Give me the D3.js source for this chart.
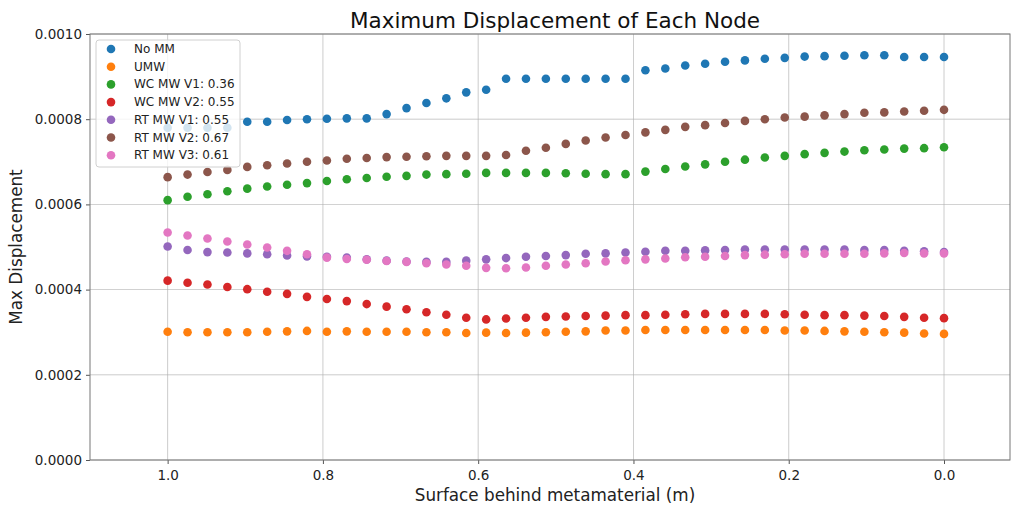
<!DOCTYPE html>
<html>
<head>
<meta charset="utf-8">
<script src="https://cdn.jsdelivr.net/npm/d3@7"></script>
<style>
  body { margin: 0; background: #fff; }
  svg { font-family: "DejaVu Sans", sans-serif; }
</style>
</head>
<body>
<svg id="chart" width="1011" height="507"></svg>
<script>
// node positions: 40 nodes from 1.0 m down to 0.0 m
const positions = d3.range(40).map(i => 1 - i / 39);

const seriesNames = ["No MM", "UMW", "WC MW V1: 0.36", "WC MW V2: 0.55",
  "RT MW V1: 0.55", "RT MW V2: 0.67", "RT MW V3: 0.61"];
const colors = ["#1f77b4", "#ff7f0e", "#2ca02c", "#d62728", "#9467bd", "#8c564b", "#e377c2"];

const noMM = [0.000780, 0.000780, 0.000780, 0.000780, 0.000794, 0.000794, 0.000798, 0.000800, 0.000801, 0.000802,
  0.000802, 0.000812, 0.000826, 0.000838, 0.000849, 0.000863, 0.000869, 0.000895, 0.000895, 0.000895,
  0.000895, 0.000895, 0.000895, 0.000895, 0.000915, 0.000919, 0.000926, 0.000930, 0.000935, 0.000938,
  0.000942, 0.000944, 0.000947, 0.000948, 0.000949, 0.000950, 0.000950, 0.000946, 0.000946, 0.000946];
const umw = [0.000301, 0.000300, 0.000300, 0.000300, 0.000300, 0.000301, 0.000302, 0.000303, 0.000301, 0.000302,
  0.000301, 0.000301, 0.000301, 0.000300, 0.000300, 0.000298, 0.000299, 0.000298, 0.000299, 0.000300,
  0.000301, 0.000302, 0.000304, 0.000304, 0.000305, 0.000305, 0.000305, 0.000305, 0.000305, 0.000305,
  0.000305, 0.000304, 0.000304, 0.000303, 0.000302, 0.000301, 0.000300, 0.000299, 0.000297, 0.000296];
const wcV1 = [0.000610, 0.000618, 0.000624, 0.000631, 0.000637, 0.000642, 0.000646, 0.000650, 0.000655, 0.000659,
  0.000662, 0.000665, 0.000667, 0.000670, 0.000671, 0.000672, 0.000674, 0.000674, 0.000674, 0.000674,
  0.000673, 0.000672, 0.000671, 0.000671, 0.000677, 0.000683, 0.000689, 0.000694, 0.000700, 0.000705,
  0.000710, 0.000714, 0.000718, 0.000721, 0.000724, 0.000727, 0.000729, 0.000731, 0.000732, 0.000734];
const wcV2 = [0.000421, 0.000416, 0.000412, 0.000406, 0.000401, 0.000395, 0.000390, 0.000383, 0.000378, 0.000373,
  0.000366, 0.000360, 0.000354, 0.000347, 0.000341, 0.000334, 0.000330, 0.000332, 0.000334, 0.000336,
  0.000337, 0.000338, 0.000339, 0.000340, 0.000340, 0.000341, 0.000342, 0.000343, 0.000343, 0.000343,
  0.000343, 0.000342, 0.000341, 0.000340, 0.000340, 0.000339, 0.000338, 0.000336, 0.000334, 0.000333];
const rtV1 = [0.000501, 0.000493, 0.000488, 0.000487, 0.000485, 0.000483, 0.000480, 0.000478, 0.000477, 0.000475,
  0.000471, 0.000468, 0.000466, 0.000465, 0.000465, 0.000468, 0.000471, 0.000474, 0.000477, 0.000479,
  0.000481, 0.000484, 0.000485, 0.000487, 0.000489, 0.000491, 0.000491, 0.000492, 0.000493, 0.000494,
  0.000494, 0.000494, 0.000494, 0.000494, 0.000494, 0.000493, 0.000493, 0.000491, 0.000490, 0.000488];
const rtV2 = [0.000664, 0.000670, 0.000676, 0.000681, 0.000688, 0.000692, 0.000696, 0.000700, 0.000703, 0.000707,
  0.000709, 0.000711, 0.000712, 0.000713, 0.000714, 0.000714, 0.000714, 0.000716, 0.000726, 0.000733,
  0.000742, 0.000750, 0.000757, 0.000763, 0.000769, 0.000775, 0.000782, 0.000786, 0.000791, 0.000796,
  0.000800, 0.000804, 0.000806, 0.000809, 0.000812, 0.000815, 0.000816, 0.000818, 0.000820, 0.000822];
const rtV3 = [0.000534, 0.000527, 0.000520, 0.000513, 0.000506, 0.000499, 0.000491, 0.000483, 0.000475, 0.000472,
  0.000470, 0.000467, 0.000465, 0.000462, 0.000459, 0.000456, 0.000451, 0.000450, 0.000452, 0.000456,
  0.000459, 0.000462, 0.000466, 0.000469, 0.000471, 0.000473, 0.000476, 0.000477, 0.000479, 0.000481,
  0.000482, 0.000483, 0.000484, 0.000484, 0.000484, 0.000484, 0.000485, 0.000486, 0.000485, 0.000485];

const allSeries = [noMM, umw, wcV1, wcV2, rtV1, rtV2, rtV3];

const xTicks = [1.0, 0.8, 0.6, 0.4, 0.2, 0.0];
const yTicks = [0, 0.0002, 0.0004, 0.0006, 0.0008, 0.0010];

const svg = d3.select("#chart");
const margin = {top: 34, right: 1, bottom: 47, left: 90};
const width = 1011 - margin.left - margin.right;
const height = 507 - margin.top - margin.bottom;

const g = svg.append("g")
  .attr("transform", "translate(" + margin.left + "," + margin.top + ")");

const x = d3.scaleLinear().domain([1.1, -0.085]).range([0, width]);
const y = d3.scaleLinear().domain([0, 0.001]).range([height, 0]);

// grid
g.append("g").selectAll("line").data(xTicks).enter().append("line")
  .attr("x1", d => x(d)).attr("x2", d => x(d))
  .attr("y1", 0).attr("y2", height)
  .attr("stroke", "#b0b0b0").attr("stroke-width", 0.8).attr("opacity", 0.8);
g.append("g").selectAll("line").data(yTicks).enter().append("line")
  .attr("x1", 0).attr("x2", width)
  .attr("y1", d => y(d)).attr("y2", d => y(d))
  .attr("stroke", "#b0b0b0").attr("stroke-width", 0.8).attr("opacity", 0.8);

// axes
const xAxis = g.append("g")
  .attr("transform", "translate(0," + height + ")")
  .call(d3.axisBottom(x).tickValues(xTicks).tickFormat(d3.format(".1f")).tickSize(4).tickPadding(6));
const yAxis = g.append("g")
  .call(d3.axisLeft(y).tickValues(yTicks).tickFormat(d3.format(".4f")).tickSize(4).tickPadding(4));
[xAxis, yAxis].forEach(a => {
  a.select(".domain").remove();
  a.selectAll("line").attr("stroke", "#555");
  a.selectAll("text").attr("font-size", 13.5).attr("fill", "#222")
    .attr("font-family", "DejaVu Sans, sans-serif");
});

// frame
g.append("rect")
  .attr("x", 0).attr("y", 0).attr("width", width).attr("height", height)
  .attr("fill", "none").attr("stroke", "#777").attr("stroke-width", 1);

// points
allSeries.forEach((vals, k) => {
  g.append("g").selectAll("circle")
    .data(vals).enter().append("circle")
    .attr("cx", (d, i) => x(positions[i]))
    .attr("cy", d => y(d))
    .attr("r", 4.3)
    .attr("fill", colors[k]);
});

// title and labels
svg.append("text")
  .attr("x", margin.left + width / 2 + 5).attr("y", 28)
  .attr("text-anchor", "middle").attr("font-size", 21.5).attr("fill", "#111")
  .text("Maximum Displacement of Each Node");

svg.append("text")
  .attr("x", margin.left + width / 2 + 5).attr("y", 501)
  .attr("text-anchor", "middle").attr("font-size", 16.8).attr("fill", "#222")
  .text("Surface behind metamaterial (m)");

svg.append("text")
  .attr("transform", "translate(22," + (margin.top + height / 2) + ")rotate(-90)")
  .attr("text-anchor", "middle").attr("font-size", 16.8).attr("fill", "#222")
  .text("Max Displacement");

// legend
const legend = g.append("g").attr("transform", "translate(6,6)");
legend.append("rect")
  .attr("width", 144).attr("height", 127).attr("rx", 3)
  .attr("fill", "rgba(255,255,255,0.8)").attr("stroke", "#d0d0d0").attr("stroke-width", 1);
seriesNames.forEach((name, k) => {
  const row = legend.append("g").attr("transform", "translate(0," + (9 + k * 17.7) + ")");
  row.append("circle").attr("cx", 15).attr("cy", 0).attr("r", 4.3).attr("fill", colors[k]);
  row.append("text").attr("x", 38).attr("y", 4).attr("font-size", 12).attr("fill", "#222").text(name);
});
</script>
</body>
</html>
